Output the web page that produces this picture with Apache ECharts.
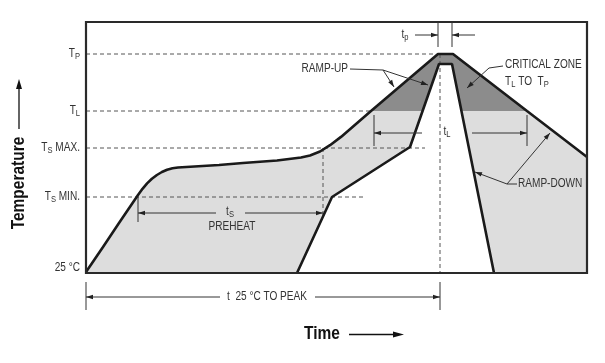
<!DOCTYPE html>
<html><head><meta charset="utf-8">
<script src="https://cdn.jsdelivr.net/npm/echarts@6/dist/echarts.min.js"></script>
<style>html,body{margin:0;padding:0;background:#fff}#c{width:605px;height:363px}</style>
</head><body><div id="c"></div>
<script>
// ---- data (abstract units: time on x, temperature on y) ----
const outerTime = [0, 17, 33, 52, 56.5, 61.1, 65.9, 70.9, 75.9, 81.1, 86.5, 92, 133, 157, 191, 215, 224, 234, 244, 255, 285, 352, 367, 441, 501];
const outerTemp = [1, 26, 50, 78, 84.2, 89.6, 94.2, 98, 101, 103.3, 104.8, 105.5, 108, 110, 112.5, 115.5, 117.5, 121.5, 127.8, 136.1, 162, 219, 219, 162, 116];
const innerTime = [211, 246, 324, 353, 366, 408];
const innerTemp = [0, 76, 126, 209, 209, 0];
const levelLabels = ['25 °C', 'TS MIN.', 'TS MAX.', 'TL', 'TP'];
const levelValues = [5, 76, 125, 162, 219];
// dashed guide lines [x1,y1,x2,y2]
const guideLines = [[0,219,350,219],[0,162,285,162],[0,125,339,125],[0,76,277,76],[354,219,354,0],[237,125,237,58]];
// arrowed lines [x1,y1,x2,y2] (arrow at x2,y2)
const arrowLines = [[130,60,52,60],[159,60,237,60],[336,140,288,140],[386,140,441,140],
  [329,238,352,238],[389,238,366,238],[134,-24,0,-24],[229,-24,354,-24],
  [297,203,308,186],[297,203,342,188],[403,205,381,185],[421,89,464,140],[421,89,389,101]];
// plain leader lines / ticks
const plainLines = [[264,204,297,203],[417,207,403,205],[431,89,421,89],[52,76,52,51],
  [288,158,288,127],[441,158,441,127],[352,251,352,226],[366,251,366,226],[0,-9,0,-37],[354,-9,354,-37]];
// annotation texts [text, x, y, align]
const notes = [['{m|t}{s|S}',144,61,'center'],['PREHEAT',146,46,'center'],['{m|t}{s|L}',361,141,'center'],
  ['{m|t}{s|p}',319,238,'center'],['t  25 °C TO PEAK',181,-24,'center'],['RAMP-UP',262,204,'right'],
  ['CRITICAL ZONE',419,208,'left'],['{m|T}{s|L} {m|TO} {m| T}{s|P}',419,191,'left'],['RAMP-DOWN',432,89,'left']];

const FONT = "'Liberation Sans','Arial',sans-serif";
const SX = 0.84;
const INK = '#1a1a1a', TXT = '#333';
const outerPts = outerTime.map((t, i) => [t, outerTemp[i]]);
const innerPts = innerTime.map((t, i) => [t, innerTemp[i]]);
const TL = levelValues[3];
const zonePts = outerPts.filter(p => p[1] >= TL);
const richSub = {
  m: {fontSize: 12, fontFamily: FONT, fill: TXT, lineHeight: 14},
  s: {fontSize: 9, fontFamily: FONT, fill: TXT, verticalAlign: 'bottom', lineHeight: 6}
};
function levelText(s) {
  if (s === 'TP') return '{m|T}{s|P}';
  if (s === 'TL') return '{m|T}{s|L}';
  if (s.startsWith('TS')) return '{m|T}{s|S}{m|' + s.slice(2) + '}';
  return s;
}
function head(tip, from, len, half) {
  const dx = tip[0] - from[0], dy = tip[1] - from[1];
  const d = Math.sqrt(dx*dx + dy*dy) || 1;
  const ux = dx/d, uy = dy/d, nx = -uy, ny = ux;
  return [tip, [tip[0]-ux*len+nx*half, tip[1]-uy*len+ny*half], [tip[0]-ux*len-nx*half, tip[1]-uy*len-ny*half]];
}
function txt(x, y, s, align) {
  return {type: 'text', x: x, y: y, scaleX: SX, style: {text: s, fill: TXT, fontFamily: FONT, fontSize: 12,
    align: align, verticalAlign: 'middle', rich: richSub}};
}

const chart = echarts.init(document.getElementById('c'));
const option = {
  animation: false,
  grid: {left: 86, top: 22, width: 501, height: 251, show: false},
  xAxis: {type: 'value', min: 0, max: 501, show: false},
  yAxis: {type: 'value', min: 0, max: 251, show: false},
  series: [
    {type: 'line', data: outerPts, symbol: 'none', lineStyle: {opacity: 0, width: 0}, areaStyle: {color: '#dddddd', opacity: 1}, z: 1, silent: true},
    {type: 'custom', data: [[0, 0]], z: 2, clip: false, silent: true,
      renderItem: (p, api) => ({type: 'polygon', shape: {points: zonePts.map(q => api.coord(q))}, style: {fill: '#8c8c8c'}})},
    {type: 'line', data: innerPts, symbol: 'none', lineStyle: {opacity: 0, width: 0}, areaStyle: {color: '#ffffff', opacity: 1}, z: 3, silent: true},
    {type: 'custom', data: [[0, 0]], z: 4, clip: false, silent: true,
      renderItem: (p, api) => ({type: 'group', children: guideLines.map(g => ({type: 'polyline',
        shape: {points: [api.coord([g[0], g[1]]), api.coord([g[2], g[3]])]},
        style: {stroke: '#555', lineWidth: 1, lineDash: [4, 3], fill: null}}))})},
    {type: 'line', data: outerPts, symbol: 'none', lineStyle: {color: INK, width: 2.6}, z: 5, silent: true},
    {type: 'line', data: innerPts, symbol: 'none', lineStyle: {color: INK, width: 2.6}, z: 5, silent: true},
    {type: 'custom', data: [[0, 0]], z: 6, clip: false, silent: true,
      renderItem: (p, api) => {
        const ch = [];
        const c0 = api.coord([0, 0]), c1 = api.coord([501, 251]);
        ch.push({type: 'rect', shape: {x: c0[0], y: c1[1], width: c1[0]-c0[0], height: c0[1]-c1[1]},
          style: {stroke: '#2a2a2a', lineWidth: 2.2, fill: null}});
        plainLines.concat(arrowLines).forEach(l => ch.push({type: 'polyline',
          shape: {points: [api.coord([l[0], l[1]]), api.coord([l[2], l[3]])]},
          style: {stroke: '#333', lineWidth: 1, fill: null}}));
        arrowLines.forEach(l => ch.push({type: 'polygon',
          shape: {points: head(api.coord([l[2], l[3]]), api.coord([l[0], l[1]]), 7, 2.3)}, style: {fill: '#222'}}));
        notes.forEach(n => {
          const c = api.coord([n[1], n[2]]);
          ch.push(txt(c[0], c[1], n[0], n[3]));
        });
        levelValues.forEach((v, i) => {
          const c = api.coord([0, v]);
          ch.push(txt(c[0] - 6, c[1], levelText(levelLabels[i]), 'right'));
        });
        return {type: 'group', children: ch};
      }}
  ],
  graphic: [
    {type: 'text', x: 19, y: 183, rotation: Math.PI/2, scaleX: 0.86, style: {text: 'Temperature', fontFamily: FONT, fontWeight: 'bold', fontSize: 18, fill: '#111', align: 'center', verticalAlign: 'middle'}},
    {type: 'line', shape: {x1: 19, y1: 129, x2: 19, y2: 86}, style: {stroke: '#111', lineWidth: 1.3}},
    {type: 'polygon', shape: {points: [[19, 79], [16, 89], [22, 89]]}, style: {fill: '#111'}},
    {type: 'text', x: 322, y: 334, scaleX: 0.86, style: {text: 'Time', fontFamily: FONT, fontWeight: 'bold', fontSize: 18, fill: '#111', align: 'center', verticalAlign: 'middle'}},
    {type: 'line', shape: {x1: 349, y1: 334.5, x2: 396, y2: 334.5}, style: {stroke: '#111', lineWidth: 1.3}},
    {type: 'polygon', shape: {points: [[404, 334.5], [393, 331.5], [393, 337.5]]}, style: {fill: '#111'}}
  ]
};
chart.setOption(option);
</script>
</body></html>
